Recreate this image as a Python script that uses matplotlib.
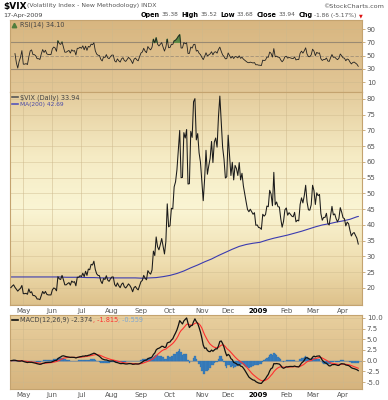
import numpy as np
import pandas as pd
import matplotlib
matplotlib.use('Agg')
import matplotlib.pyplot as plt
from matplotlib.colors import to_rgb

# trading days on the chart (market holidays left out)
holidays = ['2008-05-26', '2008-07-04', '2008-09-01', '2008-11-27', '2008-12-25',
            '2009-01-01', '2009-01-19', '2009-02-16', '2009-04-10']
dates = pd.bdate_range('2008-04-18', '2009-04-17')
dates = dates[~dates.isin(pd.to_datetime(holidays))]

# $VIX daily closes
vix_apr08 = [20.1, 20.6, 21.0, 20.2, 19.6, 19.0, 19.5, 19.9, 20.8]
vix_may08 = [18.2, 18.2, 18.3, 18.0, 19.7, 18.5, 18.8, 17.6, 17.6, 17.3, 16.5,
             16.5, 16.3, 17.6, 18.9, 18.2, 18.9, 18.0, 17.8, 17.8, 17.8]
vix_jun08 = [19.4, 20.0, 19.8, 19.1, 23.6, 22.9, 22.7, 24.0, 22.6, 21.0, 21.0,
             21.4, 21.7, 20.9, 22.2, 21.8, 22.0, 20.7, 23.4, 23.4, 23.9]
vix_jul08 = [23.6, 24.7, 23.6, 25.3, 24.0, 26.0, 25.8, 27.5, 27.3, 28.5, 25.9,
             24.5, 24.0, 23.9, 22.2, 21.4, 23.0, 22.7, 23.9, 22.5, 22.1, 22.9]
vix_aug08 = [23.5, 23.5, 21.1, 20.5, 21.6, 20.7, 20.1, 21.2, 21.6, 20.4, 20.0,
             20.6, 21.3, 20.8, 20.0, 18.8, 20.1, 20.5, 19.8, 19.4, 20.7]
vix_sep08 = [22.0, 22.4, 24.0, 23.1, 22.6, 25.5, 24.8, 24.4, 25.7, 31.7, 30.3,
             36.2, 33.1, 32.1, 33.8, 35.7, 33.2, 30.8, 34.7, 46.7, 39.4]
vix_oct08 = [39.8, 45.3, 45.1, 52.1, 53.7, 57.5, 63.9, 70.0, 55.0, 55.1, 69.3,
             67.6, 70.3, 53.0, 53.1, 69.7, 67.8, 79.1, 80.1, 67.0, 69.0, 62.9, 59.9]
vix_nov08 = [53.7, 47.7, 54.6, 63.7, 56.1, 58.8, 61.2, 66.5, 59.8, 66.3, 67.6,
             64.7, 74.3, 80.9, 72.7, 64.7, 60.9, 54.9, 55.3]
vix_dec08 = [68.5, 62.1, 55.7, 59.9, 54.3, 58.9, 57.9, 55.7, 59.8, 54.3, 56.4,
             52.4, 49.8, 47.3, 44.9, 44.2, 45.0, 44.2, 43.4, 43.9, 39.9, 40.0]
vix_jan09 = [39.2, 39.1, 38.6, 43.4, 42.8, 43.3, 46.0, 45.8, 51.0, 49.8, 46.1,
             56.7, 46.4, 47.3, 45.8, 45.7, 42.0, 39.3, 41.1, 44.8]
vix_feb09 = [45.4, 43.1, 43.9, 43.4, 42.8, 42.6, 44.0, 41.0, 41.5, 41.3, 46.5,
             48.6, 47.0, 49.3, 52.6, 47.3, 44.8, 44.7, 46.4]
vix_mar09 = [52.6, 50.9, 46.5, 50.2, 49.3, 49.7, 43.6, 41.5, 42.4, 42.4, 43.7,
             40.5, 40.0, 43.0, 45.9, 43.2, 43.5, 42.0, 41.0, 42.0, 45.5, 44.1]
vix_apr09 = [42.3, 42.0, 39.7, 40.9, 40.4, 38.3, 36.5, 37.3, 37.6, 36.7, 35.8, 33.94]

vix = np.array(vix_apr08 + vix_may08 + vix_jun08 + vix_jul08 + vix_aug08 +
               vix_sep08 + vix_oct08 + vix_nov08 + vix_dec08 + vix_jan09 +
               vix_feb09 + vix_mar09 + vix_apr09)

# MA(200), read every 5th trading day, last one on the final day
ma200 = [23.5, 23.5, 23.5, 23.5, 23.5, 23.5, 23.5, 23.5, 23.4, 23.4, 23.4,
         23.3, 23.3, 23.2, 23.2, 23.2, 23.2, 23.2, 23.2, 23.1, 23.2, 23.3,
         23.6, 24.0, 24.6, 25.4, 26.4, 27.3, 28.3, 29.2, 30.3, 31.3, 32.3,
         33.2, 33.8, 34.2, 34.5, 35.2, 35.8, 36.3, 36.8, 37.4, 38.0, 38.7,
         39.4, 40.0, 40.4, 40.9, 41.3, 41.8, 42.6, 42.69]

n = len(vix)
x = np.arange(n)
ma_x = np.r_[np.arange(0, n - 1, 5), n - 1]

# indicators from the closes
s = pd.Series(vix)
d = s.diff()
up = d.clip(lower=0)
dn = (-d).clip(lower=0)
gain = up.expanding().mean()
loss = dn.expanding().mean()
gain[14:] = up[1:].ewm(alpha=1 / 14, adjust=False).mean()[13:]
loss[14:] = dn[1:].ewm(alpha=1 / 14, adjust=False).mean()[13:]
rsi = (100 - 100 / (1 + gain / loss)).values
rsi[:3] = np.nan

ema12 = s.ewm(span=12, adjust=False).mean()
ema26 = s.ewm(span=26, adjust=False).mean()
macd = (ema12 - ema26).values
signal = pd.Series(macd).ewm(span=9, adjust=False).mean().values
hist = macd - signal

# month starts for the grid / labels
idx = pd.Series(x, index=dates)
firsts = idx.groupby([dates.year, dates.month]).first().values[1:]
mlabels = ['2009' if dates[i].month == 1 else dates[i].strftime('%b') for i in firsts]

W, H = 388, 400
fig = plt.figure(figsize=(W / 100, H / 100), dpi=100)
fig.patch.set_facecolor('white')
renderer = fig.canvas.get_renderer()


def box(top, bottom, left=10, right=362):
    return [left / W, 1 - bottom / H, (right - left) / W, (bottom - top) / H]


def gradient(ax, stops):
    pos = np.array([p for p, c in stops])
    cols = np.array([to_rgb(c) for p, c in stops])
    yy = np.linspace(0, 1, 200)
    img = np.stack([np.interp(yy, pos, cols[:, k]) for k in range(3)], axis=1)
    ax.imshow(img[:, None, :], extent=[0, 1, 0, 1], origin='lower', aspect='auto',
              transform=ax.transAxes, zorder=-10, interpolation='bilinear')


def text_run(x0, y, parts, gap=2.0):
    # write text pieces one after the other, starting at pixel x0
    xp = x0
    for txt, kw in parts:
        t = fig.text(xp / W, 1 - y / H, txt, va='center', **kw)
        xp = t.get_window_extent(renderer).x1 + gap
    return xp


spine_c = '#c4a36f'
grid_c = '#cdb88c'
lab_c = '#555555'

ax_rsi = fig.add_axes(box(20, 92))
ax_px = fig.add_axes(box(92, 305))
ax_m = fig.add_axes(box(315, 389))

gradient(ax_rsi, [(0, '#e2c797'), (1, '#d8b680')])
gradient(ax_px, [(0, '#dec28c'), (0.2, '#efdeb0'), (0.45, '#faf5d4'),
                 (0.7, '#f5ebc4'), (1, '#e4cc9c')])
gradient(ax_m, [(0, '#d6b47e'), (1, '#e8cf9e')])

for ax in (ax_rsi, ax_px, ax_m):
    ax.set_xlim(-0.6, n + 1.7)
    for sp in ax.spines.values():
        sp.set_color(spine_c)
        sp.set_linewidth(0.8)
    ax.yaxis.tick_right()
    ax.tick_params(axis='y', colors=spine_c, labelcolor=lab_c, labelsize=5,
                   length=2, width=0.6, pad=1.5)
    for i in firsts:
        ax.axvline(i, color=grid_c, lw=0.5, alpha=0.7, zorder=0)
    ax.set_xticks(firsts)
    ax.tick_params(axis='x', length=0, labelsize=5, labelcolor=lab_c, pad=2)

# RSI panel
ax_rsi.set_ylim(-5, 103.6)
ax_rsi.set_yticks([10, 30, 50, 70, 90])
for lv in (10, 90):
    ax_rsi.axhline(lv, color=grid_c, lw=0.5, alpha=0.7, zorder=0)
ax_rsi.axhline(70, color='#9a8a72', lw=0.8, zorder=1)
ax_rsi.axhline(30, color='#9a8a72', lw=0.8, zorder=1)
ax_rsi.axhline(50, color='#a09078', lw=0.6, ls=(0, (4, 2)), zorder=1)
ax_rsi.fill_between(x, 70, rsi, where=rsi > 70, interpolate=True,
                    color='#5b8a46', zorder=2)
ax_rsi.fill_between(x, 30, rsi, where=rsi < 30, interpolate=True,
                    color='#5b8a46', zorder=2)
ax_rsi.plot(x, rsi, color='#222222', lw=0.6, zorder=3)
ax_rsi.tick_params(axis='x', labelbottom=False)
ax_rsi.plot([0.012], [0.935], marker='^', ms=3.2, color='#4f7d3c',
            transform=ax_rsi.transAxes, clip_on=False)
ax_rsi.text(0.028, 0.935, 'RSI(14) 34.10', transform=ax_rsi.transAxes,
            fontsize=4.7, color='#444444', va='center')

# price panel
ax_px.set_ylim(14.6, 82.2)
ax_px.set_yticks(np.arange(20, 81, 5))
for lv in np.arange(15, 81, 5):
    ax_px.axhline(lv, color=grid_c, lw=0.5, alpha=0.6, zorder=0)
ax_px.plot(ma_x, ma200, color='#3b3bb0', lw=0.8, zorder=2)
ax_px.plot(x, vix, color='#1a1a1a', lw=0.75, zorder=3)
ax_px.set_xticklabels(mlabels)
for t in ax_px.get_xticklabels():
    if t.get_text() == '2009':
        t.set_fontweight('bold')
        t.set_color('black')
ax_px.plot([0.006, 0.022], [0.975, 0.975], color='#555555', lw=1.2,
           transform=ax_px.transAxes)
ax_px.text(0.028, 0.975, '$VIX (Daily) 33.94', transform=ax_px.transAxes,
           fontsize=4.7, color='#444444', va='center')
ax_px.plot([0.006, 0.022], [0.943, 0.943], color='#5555bb', lw=1.2,
           transform=ax_px.transAxes)
ax_px.text(0.028, 0.943, 'MA(200) 42.69', transform=ax_px.transAxes,
           fontsize=4.2, color='#4a4aa8', va='center')

# MACD panel
ax_m.set_ylim(-6.64, 10.7)
ax_m.set_yticks(np.arange(-5, 10.1, 2.5))
ax_m.set_yticklabels(['%.1f' % v for v in np.arange(-5, 10.1, 2.5)])
for lv in np.arange(-5, 10.1, 2.5):
    ax_m.axhline(lv, color=grid_c, lw=0.5, alpha=0.6, zorder=0)
ax_m.axhline(0, color='#9a9a9a', lw=0.6, zorder=1)
ax_m.bar(x, hist, width=1.0, color='#3a80c0', edgecolor='#2f6ea8', lw=0.2, zorder=2)
ax_m.plot(x, signal, color='#ff3030', lw=0.8, zorder=3)
ax_m.plot(x, macd, color='#111111', lw=0.9, zorder=4)
ax_m.set_xticklabels(mlabels)
for t in ax_m.get_xticklabels():
    if t.get_text() == '2009':
        t.set_fontweight('bold')
        t.set_color('black')
ax_m.plot([0.006, 0.022], [0.93, 0.93], color='#111111', lw=1.2,
          transform=ax_m.transAxes)
text_run(10 + 0.028 * 352, 320,
         [('MACD(12,26,9) -2.374', dict(fontsize=4.7, color='#444444')),
          (', -1.815', dict(fontsize=4.7, color='#ff3030')),
          (', -0.559', dict(fontsize=4.7, color='#7aa6d4'))], gap=0.5)

# header
fig.text(3 / W, 1 - 6 / H, '$VIX', fontsize=6.5, fontweight='bold', va='center')
fig.text(27 / W, 1 - 6 / H, '(Volatility Index - New Methodology) INDX',
         fontsize=4.4, color='#555555', va='center')
fig.text(384 / W, 1 - 6 / H, '\u00a9StockCharts.com', fontsize=4.6,
         color='#555555', va='center', ha='right')
fig.text(3 / W, 1 - 15 / H, '17-Apr-2009', fontsize=4.6, color='#444444', va='center')
bold = dict(fontsize=4.7, fontweight='bold', color='black')
val = dict(fontsize=4.2, color='#555555')
parts = []
for lab, num in [('Open', '35.38'), ('High', '35.52'), ('Low', '33.68'),
                 ('Close', '33.94'), ('Chg', '-1.86 (-5.17%)')]:
    parts += [(lab, bold), (num, val), ('', dict(fontsize=1))]
end = text_run(141, 15, parts, gap=1.6)
fig.text((end + 1.5) / W, 1 - 15.5 / H, '\u25bc', fontsize=3.5, color='#dd1111',
         va='center', ha='center')

fig.savefig('out.png', dpi=100, facecolor='white')
